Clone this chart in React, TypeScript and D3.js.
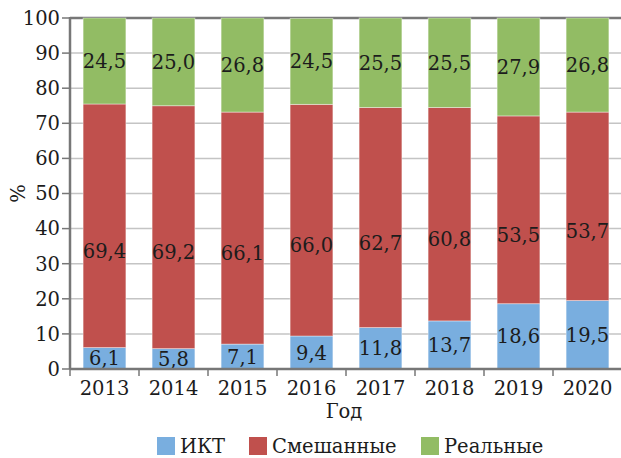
import React from "react";
import * as d3 from "d3";

const years = ["2013", "2014", "2015", "2016", "2017", "2018", "2019", "2020"];
const ikt = [6.1, 5.8, 7.1, 9.4, 11.8, 13.7, 18.6, 19.5];
const mixed = [69.4, 69.2, 66.1, 66.0, 62.7, 60.8, 53.5, 53.7];
const real = [24.5, 25.0, 26.8, 24.5, 25.5, 25.5, 27.9, 26.8];
const seriesNames = ["ИКТ", "Смешанные", "Реальные"];
const seriesColors = ["#79aedf", "#c0504d", "#92bc64"];
const yTicks = [0, 10, 20, 30, 40, 50, 60, 70, 80, 90, 100];

const W = 621, H = 458;
const M = { left: 70, right: 622, top: 18, bottom: 369 };
const FONT = "'DejaVu Serif', serif";

export default function App() {
  const x = d3.scaleBand<string>().domain(years).range([M.left, M.right]).paddingInner(0.38).paddingOuter(0.19);
  const y = d3.scaleLinear().domain([0, 100]).range([M.bottom, M.top]);
  const table = years.map((yr, i) => ({ year: yr, s0: ikt[i], s1: mixed[i], s2: real[i] }));
  const stacked = d3.stack<any>().keys(["s0", "s1", "s2"])(table);
  const fs = 19.5;
  const step = x.step();
  const boundaries = years.map((_, i) => M.left + i * step).concat([M.left + years.length * step]);

  const legendX = [157, 249, 421];

  return (
    <svg width={W} height={H} style={{ position: "absolute", left: 0, top: 0, background: "#fff" }} fontFamily={FONT}>
      {yTicks.map((t) => (
        <g key={t}>
          {t > 0 && (
            <line x1={M.left} x2={W} y1={y(t)} y2={y(t)} stroke={t === 100 ? "#777" : "#c4c4c4"} strokeWidth={t === 100 ? 2.5 : 1.5} />
          )}
          <line x1={M.left - 8} x2={M.left} y1={y(t)} y2={y(t)} stroke="#777" strokeWidth={1.5} />
          <text x={M.left - 10} y={y(t)} dy="0.35em" textAnchor="end" fontSize={fs} fill="#1c1c1c">{t}</text>
        </g>
      ))}
      {stacked.map((s, si) => (
        <g key={si}>
          {s.map((d, i) => (
            <rect key={i} x={x(years[i])} y={y(d[1])} width={x.bandwidth()} height={y(d[0]) - y(d[1])}
              fill={seriesColors[si]} stroke="#fff" strokeOpacity={0.5} strokeWidth={0.8} />
          ))}
        </g>
      ))}
      {stacked.map((s, si) => (
        <g key={"l" + si}>
          {s.map((d, i) => {
            const v = d[1] - d[0];
            const cy = (y(d[0]) + y(d[1])) / 2 + (si === 1 ? 25 : 0);
            return (
              <text key={i} x={(x(years[i]) as number) + x.bandwidth() / 2} y={cy} dy="0.36em" textAnchor="middle" fontSize={fs} fill="#1c1c1c">
                {v.toFixed(1).replace(".", ",")}
              </text>
            );
          })}
        </g>
      ))}
      <line x1={M.left} x2={M.left} y1={M.top - 1} y2={M.bottom} stroke="#777" strokeWidth={2.5} />
      <line x1={M.left} x2={W} y1={M.bottom} y2={M.bottom} stroke="#777" strokeWidth={2.5} />
      {boundaries.map((b, i) => (
        <line key={i} x1={b} x2={b} y1={M.bottom} y2={M.bottom + 7} stroke="#777" strokeWidth={1.5} />
      ))}
      {years.map((yr) => (
        <text key={yr} x={(x(yr) as number) + x.bandwidth() / 2} y={395} textAnchor="middle" fontSize={fs} fill="#1c1c1c">{yr}</text>
      ))}
      <text x={344} y={418} textAnchor="middle" fontSize={fs} fill="#1c1c1c">Год</text>
      <text transform={`translate(25,${y(50)}) rotate(-90)`} textAnchor="middle" fontSize={fs} fill="#1c1c1c">%</text>
      {seriesNames.map((n, i) => (
        <g key={n}>
          <rect x={legendX[i]} y={437} width={18} height={18} fill={seriesColors[i]} />
          <text x={legendX[i] + 23} y={453} fontSize={fs} fill="#1c1c1c">{n}</text>
        </g>
      ))}
    </svg>
  );
}
